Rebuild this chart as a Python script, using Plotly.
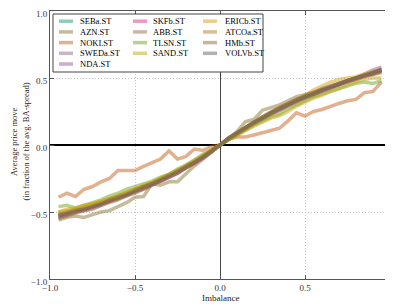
import plotly.graph_objects as go

imbalance = [-0.95, -0.9, -0.85, -0.8, -0.75, -0.7, -0.65, -0.6, -0.55, -0.5,
             -0.45, -0.4, -0.35, -0.3, -0.25, -0.2, -0.15, -0.1, -0.05, 0.0,
             0.05, 0.1, 0.15, 0.2, 0.25, 0.3, 0.35, 0.4, 0.45, 0.5,
             0.55, 0.6, 0.65, 0.7, 0.75, 0.8, 0.85, 0.9, 0.95]

tickers = ["SEBa.ST", "AZN.ST", "NOKI.ST", "SWEDa.ST", "NDA.ST", "SKFb.ST", "ABB.ST",
           "TLSN.ST", "SAND.ST", "ERICb.ST", "ATCOa.ST", "HMb.ST", "VOLVb.ST"]

SEBa = [-0.53, -0.51, -0.49, -0.48, -0.46, -0.43, -0.42, -0.39, -0.37, -0.34, -0.32, -0.29, -0.26, -0.23, -0.20, -0.17, -0.13, -0.09, -0.05, 0.0,
        0.04, 0.09, 0.13, 0.16, 0.20, 0.23, 0.26, 0.30, 0.33, 0.35, 0.38, 0.41, 0.43, 0.45, 0.48, 0.50, 0.52, 0.53, 0.55]
AZN = [-0.56, -0.54, -0.53, -0.54, -0.52, -0.50, -0.49, -0.46, -0.43, -0.39, -0.385, -0.29, -0.30, -0.275, -0.275, -0.215, -0.155, -0.105, -0.05, 0.0,
       0.05, 0.10, 0.175, 0.19, 0.26, 0.28, 0.30, 0.33, 0.36, 0.375, 0.395, 0.415, 0.435, 0.455, 0.47, 0.49, 0.51, 0.525, 0.54]
NOKI = [-0.39, -0.36, -0.385, -0.33, -0.31, -0.275, -0.25, -0.19, -0.19, -0.19, -0.16, -0.13, -0.105, -0.045, -0.105, -0.085, -0.03, -0.04, -0.01, 0.0,
        0.045, 0.06, 0.06, 0.075, 0.09, 0.105, 0.125, 0.18, 0.24, 0.215, 0.25, 0.265, 0.29, 0.31, 0.33, 0.34, 0.39, 0.40, 0.47]
SWEDa = [-0.52, -0.50, -0.49, -0.47, -0.45, -0.44, -0.41, -0.39, -0.36, -0.34, -0.31, -0.29, -0.26, -0.23, -0.20, -0.16, -0.13, -0.09, -0.04, 0.0,
         0.05, 0.09, 0.13, 0.17, 0.20, 0.24, 0.27, 0.30, 0.33, 0.36, 0.38, 0.40, 0.43, 0.45, 0.47, 0.49, 0.52, 0.54, 0.57]
NDA = [-0.53, -0.52, -0.50, -0.48, -0.46, -0.44, -0.42, -0.40, -0.37, -0.35, -0.32, -0.29, -0.27, -0.24, -0.21, -0.17, -0.13, -0.09, -0.05, 0.0,
       0.05, 0.09, 0.13, 0.17, 0.21, 0.24, 0.28, 0.31, 0.34, 0.36, 0.39, 0.41, 0.43, 0.46, 0.48, 0.50, 0.53, 0.56, 0.58]
SKFb = [-0.54, -0.52, -0.50, -0.49, -0.47, -0.45, -0.42, -0.40, -0.38, -0.35, -0.33, -0.30, -0.27, -0.24, -0.21, -0.17, -0.14, -0.10, -0.05, 0.0,
        0.04, 0.08, 0.12, 0.16, 0.19, 0.23, 0.26, 0.29, 0.32, 0.35, 0.37, 0.40, 0.42, 0.45, 0.47, 0.49, 0.51, 0.53, 0.55]
ABB = [-0.51, -0.50, -0.48, -0.47, -0.45, -0.43, -0.41, -0.38, -0.36, -0.33, -0.31, -0.28, -0.25, -0.22, -0.19, -0.16, -0.12, -0.08, -0.04, 0.0,
       0.05, 0.09, 0.13, 0.17, 0.20, 0.24, 0.27, 0.30, 0.33, 0.36, 0.39, 0.41, 0.44, 0.46, 0.48, 0.50, 0.52, 0.54, 0.56]
TLSN = [-0.46, -0.45, -0.47, -0.45, -0.43, -0.41, -0.38, -0.36, -0.33, -0.31, -0.29, -0.27, -0.24, -0.22, -0.18, -0.15, -0.11, -0.07, -0.04, 0.0,
        0.04, 0.08, 0.11, 0.15, 0.18, 0.21, 0.23, 0.27, 0.30, 0.33, 0.36, 0.38, 0.40, 0.42, 0.44, 0.46, 0.47, 0.46, 0.48]
SAND = [-0.50, -0.49, -0.48, -0.46, -0.44, -0.42, -0.40, -0.38, -0.35, -0.33, -0.30, -0.28, -0.25, -0.22, -0.19, -0.15, -0.12, -0.08, -0.04, 0.0,
        0.04, 0.07, 0.11, 0.14, 0.17, 0.20, 0.22, 0.25, 0.29, 0.32, 0.35, 0.37, 0.40, 0.42, 0.45, 0.47, 0.49, 0.50, 0.50]
ERICb = [-0.50, -0.48, -0.47, -0.45, -0.44, -0.42, -0.40, -0.38, -0.36, -0.33, -0.31, -0.28, -0.25, -0.22, -0.19, -0.16, -0.12, -0.08, -0.04, 0.0,
         0.05, 0.09, 0.13, 0.17, 0.21, 0.24, 0.28, 0.31, 0.34, 0.37, 0.41, 0.44, 0.47, 0.49, 0.50, 0.51, 0.53, 0.55, 0.56]
ATCOa = [-0.52, -0.51, -0.50, -0.48, -0.46, -0.44, -0.42, -0.40, -0.37, -0.35, -0.32, -0.29, -0.26, -0.23, -0.20, -0.17, -0.13, -0.09, -0.05, 0.0,
         0.04, 0.08, 0.12, 0.16, 0.20, 0.23, 0.27, 0.30, 0.33, 0.36, 0.38, 0.41, 0.43, 0.46, 0.48, 0.50, 0.52, 0.54, 0.56]
HMb = [-0.55, -0.53, -0.51, -0.49, -0.48, -0.45, -0.43, -0.41, -0.38, -0.36, -0.33, -0.30, -0.27, -0.24, -0.21, -0.17, -0.13, -0.09, -0.05, 0.0,
       0.05, 0.09, 0.13, 0.17, 0.21, 0.25, 0.28, 0.31, 0.34, 0.37, 0.39, 0.42, 0.44, 0.46, 0.48, 0.50, 0.52, 0.54, 0.56]
VOLVb = [-0.53, -0.51, -0.49, -0.48, -0.46, -0.44, -0.41, -0.39, -0.37, -0.34, -0.31, -0.29, -0.26, -0.23, -0.20, -0.16, -0.13, -0.09, -0.04, 0.0,
         0.05, 0.09, 0.13, 0.17, 0.20, 0.24, 0.27, 0.30, 0.33, 0.36, 0.38, 0.41, 0.43, 0.45, 0.48, 0.50, 0.52, 0.54, 0.56]

series = [SEBa, AZN, NOKI, SWEDa, NDA, SKFb, ABB, TLSN, SAND, ERICb, ATCOa, HMb, VOLVb]

tick_vals = [-1.0, -0.5, 0.0, 0.5, 1.0]

# colours: Dark2 treated as a continuous map, sampled at 13 points, alpha 0.5
dark2 = [(27, 158, 119), (217, 95, 2), (117, 112, 179), (231, 41, 138),
         (102, 166, 30), (230, 171, 2), (166, 118, 29), (102, 102, 102)]


def cmap(t):
    p = t * (len(dark2) - 1)
    i = min(int(p), len(dark2) - 2)
    f = p - i
    a, b = dark2[i], dark2[i + 1]
    return tuple(round(a[k] + f * (b[k] - a[k])) for k in range(3))


n = len(tickers)
colors = ["rgba(%d,%d,%d,0.5)" % cmap(i / (n - 1)) for i in range(n)]

# the page body has an 8px margin: the figure starts at (8, 8) in the window
OFF = 8
W, H = 393 - OFF, 308 - OFF
ML, MR, MT, MB = 50 - OFF, 3, 11 - OFF, 29
PW, PH = W - ML - MR, H - MT - MB


def px(x):
    """window pixel x -> paper coordinate"""
    return (x - OFF - ML) / PW


def py(y):
    """window pixel y -> paper coordinate"""
    return 1 - (y - OFF - MT) / PH


FONT = "Liberation Serif, Times New Roman, serif"

fig = go.Figure()
for name, ys, c in zip(tickers, series, colors):
    fig.add_trace(go.Scatter(x=imbalance, y=ys, mode="lines", name=name,
                             line=dict(color=c, width=3.5), showlegend=False))

# hand-built legend (three columns, filled column-wise like the original)
shapes = []
annotations = []
shapes.append(dict(type="rect", xref="paper", yref="paper",
                   x0=px(53), x1=px(263), y0=py(72), y1=py(14),
                   line=dict(color="#444444", width=1), fillcolor="white", layer="above"))
col_line_x = [59, 133, 203]
col_text_x = [78, 151, 223]
row_y = [21.2, 31.9, 42.6, 53.3, 64.0]
per_col = [5, 4, 4]
k = 0
for ci, cnt in enumerate(per_col):
    for ri in range(cnt):
        shapes.append(dict(type="line", xref="paper", yref="paper",
                           x0=px(col_line_x[ci]), x1=px(col_line_x[ci] + 14),
                           y0=py(row_y[ri]), y1=py(row_y[ri]),
                           line=dict(color=colors[k], width=3.5), layer="above"))
        annotations.append(dict(text=tickers[k], xref="paper", yref="paper",
                                x=px(col_text_x[ci]), y=py(row_y[ri]),
                                xanchor="left", yanchor="middle", showarrow=False,
                                font=dict(size=8.5, color="black", family=FONT)))
        k += 1

# y-axis label (two lines)
annotations.append(dict(text="Average price move", xref="paper", yref="paper",
                        x=px(14), y=py(142), textangle=-90, showarrow=False,
                        xanchor="center", yanchor="middle",
                        font=dict(size=8.5, color="#222", family=FONT)))
annotations.append(dict(text="(in fraction of the avg. BA-spread)", xref="paper", yref="paper",
                        x=px(25.5), y=py(142), textangle=-90, showarrow=False,
                        xanchor="center", yanchor="middle",
                        font=dict(size=8.5, color="#222", family=FONT)))

# x-axis label
annotations.append(dict(text="Imbalance", xref="paper", yref="paper",
                        x=px(220), y=py(298), showarrow=False,
                        xanchor="center", yanchor="middle",
                        font=dict(size=9, color="#222", family=FONT)))

axis_common = dict(range=[-1, 1], tickvals=tick_vals, tickformat=".1f",
                   showgrid=True, gridcolor="#c4c4c4", griddash="1px,2px", gridwidth=1,
                   showline=True, linecolor="#555555", linewidth=1, mirror="ticks",
                   ticks="inside", ticklen=4, tickcolor="#555555",
                   ticklabeloverflow="allow",
                   tickfont=dict(size=9, color="#333", family=FONT))

fig.update_layout(
    width=W, height=H,
    margin=dict(l=ML, r=MR, t=MT, b=MB, autoexpand=False),
    paper_bgcolor="white", plot_bgcolor="white",
    xaxis=dict(**axis_common, zeroline=True, zerolinecolor="#444444", zerolinewidth=1),
    yaxis=dict(**axis_common, zeroline=True, zerolinecolor="black", zerolinewidth=1.5,
               ticklabelshift=3),
    shapes=shapes, annotations=annotations, showlegend=False,
)

fig.write_html("out.html")
